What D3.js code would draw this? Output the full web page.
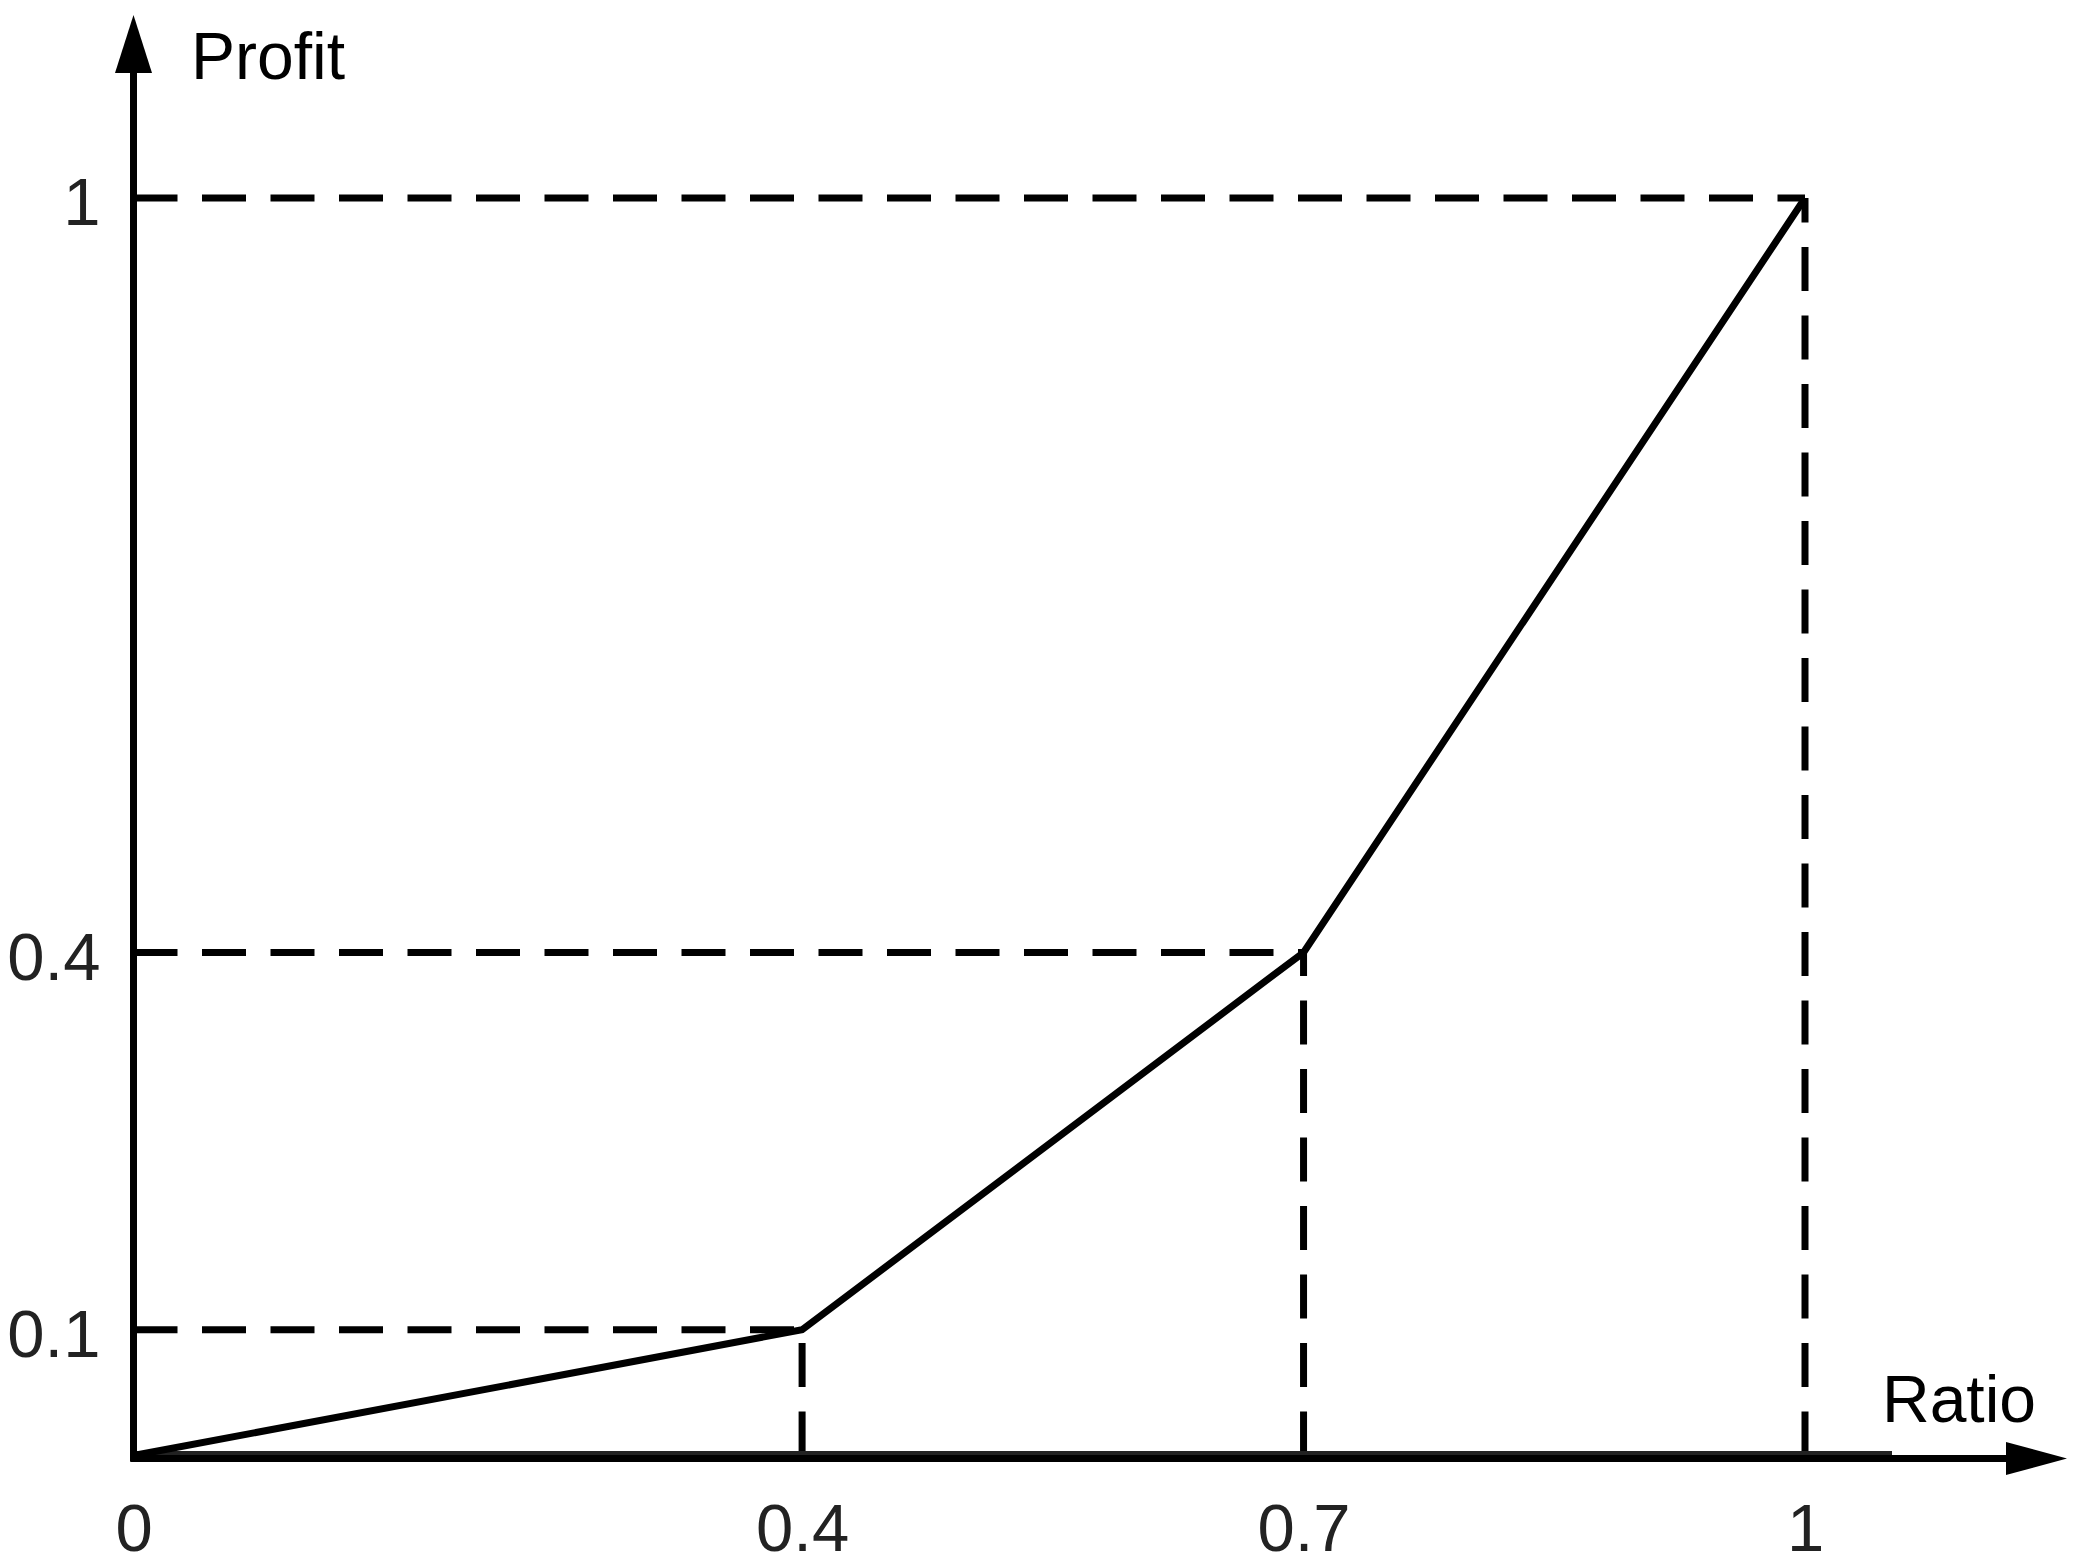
<!DOCTYPE html>
<html>
<head>
<meta charset="utf-8">
<script src="https://cdn.jsdelivr.net/npm/d3@7"></script>
<style>
  html, body { margin: 0; padding: 0; background: #fff; }
  svg text { font-family: "Liberation Sans", Arial, sans-serif; }
</style>
</head>
<body>
<svg id="chart"></svg>
<script>
// piecewise profit curve
var ratio = [0, 0.4, 0.7, 1];
var profit = [0, 0.1, 0.4, 1];

var xTicks = [0, 0.4, 0.7, 1],
    xTickLabels = ['0', '0.4', '0.7', '1'];
var yTicks = [0.1, 0.4, 1],
    yTickLabels = ['0.1', '0.4', '1'];

var xTitle = 'Ratio',
    yTitle = 'Profit';

var w = 2076, h = 1563;
var svg = d3.select('svg#chart')
    .attr('width', w)
    .attr('height', h);

var x = d3.scaleLinear().domain([0, 1]).range([133.5, 1805]);
var y = d3.scaleLinear().domain([0, 1]).range([1455.5, 198]);

var lw = 7,
    fontSize = 67;

// dashed guide lines, drawn from the axes out to each point
var pts = ratio.map(function(r, i) { return {r: r, p: profit[i]}; }).filter(function(d) { return d.r > 0; });

svg.selectAll('.hguide')
    .data(pts)
    .enter().append('line')
        .attr('class', 'hguide')
        .attr('x1', x(0))
        .attr('x2', function(d) { return x(d.r); })
        .attr('y1', function(d) { return y(d.p); })
        .attr('y2', function(d) { return y(d.p); })
        .attr('stroke', '#000')
        .attr('stroke-width', lw)
        .attr('stroke-dasharray', '44,24.5');

svg.selectAll('.vguide')
    .data(pts)
    .enter().append('line')
        .attr('class', 'vguide')
        .attr('x1', function(d) { return x(d.r); })
        .attr('x2', function(d) { return x(d.r); })
        .attr('y1', y(0))
        .attr('y2', function(d) { return y(d.p); })
        .attr('stroke', '#000')
        .attr('stroke-width', lw)
        .attr('stroke-dasharray', '44,24.5');

// axis lines (x axis has a grey under-line that stops short of the arrow)
svg.append('line')
    .attr('x1', x(0) - 3).attr('x2', 1892)
    .attr('y1', y(0) - 1).attr('y2', y(0) - 1)
    .attr('stroke', '#222')
    .attr('stroke-width', lw);

svg.append('line')
    .attr('x1', x(0) - 3).attr('x2', 2010)
    .attr('y1', y(0) + 3).attr('y2', y(0) + 3)
    .attr('stroke', '#000')
    .attr('stroke-width', lw);

svg.append('line')
    .attr('x1', x(0)).attr('x2', x(0))
    .attr('y1', y(0) + 6).attr('y2', 70)
    .attr('stroke', '#000')
    .attr('stroke-width', lw);

// arrow heads
svg.append('path')
    .attr('d', 'M' + 2067 + ',' + (y(0) + 3) + 'L' + 2006 + ',' + (y(0) - 13.5) + 'L' + 2006 + ',' + (y(0) + 19.5) + 'Z')
    .attr('fill', '#000');

svg.append('path')
    .attr('d', 'M' + x(0) + ',15L' + (x(0) - 18.5) + ',73L' + (x(0) + 18.5) + ',73Z')
    .attr('fill', '#000');

// profit curve
var line = d3.line()
    .x(function(d, i) { return x(ratio[i]); })
    .y(function(d) { return y(d); });

svg.append('path')
    .datum(profit)
    .attr('d', line)
    .attr('fill', 'none')
    .attr('stroke', '#000')
    .attr('stroke-width', lw)
    .attr('stroke-linejoin', 'miter');

// tick labels via d3 axes, with domain and tick marks hidden
var gx = svg.append('g')
    .attr('transform', 'translate(0,' + y(0) + ')')
    .call(d3.axisBottom(x)
        .tickValues(xTicks)
        .tickSize(0)
        .tickPadding(48)
        .tickFormat(function(d, i) { return xTickLabels[i]; }));

var gy = svg.append('g')
    .attr('transform', 'translate(' + x(0) + ',0)')
    .call(d3.axisLeft(y)
        .tickValues(yTicks)
        .tickSize(0)
        .tickPadding(33)
        .tickFormat(function(d, i) { return yTickLabels[i]; }));

[gx, gy].forEach(function(g) {
    g.select('.domain').remove();
    g.selectAll('text')
        .attr('fill', '#222')
        .style('font-family', '"Liberation Sans", Arial, sans-serif')
        .style('font-size', fontSize + 'px');
});
gy.selectAll('text').attr('dy', '0.4em');

// axis titles
svg.append('text')
    .attr('x', 1882)
    .attr('y', 1422)
    .attr('fill', '#000')
    .style('font-size', '66px')
    .text(xTitle);

svg.append('text')
    .attr('x', 191)
    .attr('y', 79)
    .attr('fill', '#000')
    .style('font-size', '66px')
    .text(yTitle);
</script>
</body>
</html>
